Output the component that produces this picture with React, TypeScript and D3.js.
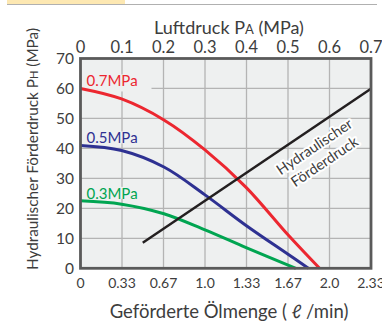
import React from "react";
import * as d3 from "d3";

const bottomTickLabels = ["0", "0.33", "0.67", "1.0", "1.33", "1.67", "2.0", "2.33"];
const topTickLabels = ["0", "0.1", "0.2", "0.3", "0.4", "0.5", "0.6", "0.7"];
const yTicks = [0, 10, 20, 30, 40, 50, 60, 70];

const seriesNames = ["0.7MPa", "0.5MPa", "0.3MPa"];
const seriesColors = ["#ec2730", "#2e3192", "#00a551"];
const flow07 = [0, 0.33, 0.67, 1.0, 1.33, 1.67, 1.92];
const head07 = [60, 56.5, 49.5, 39.5, 27, 11, 0];
const flow05 = [0, 0.33, 0.67, 1.0, 1.33, 1.67, 1.83];
const head05 = [41, 39.3, 33.8, 24.5, 14.3, 4.6, 0];
const flow03 = [0, 0.33, 0.67, 1.0, 1.33, 1.73];
const head03 = [22.5, 21.4, 18.2, 12.8, 6.9, 0];
const labelHeads = [60, 41, 22.5];

const pumpFlow = [0.5, 2.33];
const pumpHead = [8.5, 59.8];

const W = 382;
const H = 323;
const plotBg = "#eef0f0";
const textColor = "#3d3d3d";
const font = "Lato, 'Open Sans', sans-serif";

export default function App() {
  const x = d3.scaleLinear().domain([0, 7 / 3]).range([80.5, 371]);
  const xTop = d3.scaleLinear().domain([0, 0.7]).range([80.5, 371]);
  const y = d3.scaleLinear().domain([0, 70]).range([268.3, 58.5]);

  const line = d3
    .line<[number, number]>()
    .x((d) => x(d[0]))
    .y((d) => y(d[1]))
    .curve(d3.curveCatmullRom.alpha(0.5));

  const straight = d3
    .line<[number, number]>()
    .x((d) => x(d[0]))
    .y((d) => y(d[1]));

  const series = [
    { flow: flow07, head: head07 },
    { flow: flow05, head: head05 },
    { flow: flow03, head: head03 },
  ];

  const [x0, x1] = x.range();
  const [y0, y1] = y.range();

  const pumpPts: [number, number][] = pumpFlow.map((f, i) => [f, pumpHead[i]]);
  const annX = 320;
  const annY = 155;

  return (
    <svg
      width={W}
      height={H}
      style={{ position: "absolute", left: 0, top: 0, background: "#fff" }}
      fontFamily={font}
    >
      {/* cropped header fragment */}
      <rect x={7} y={0} width={118} height={4} fill="#fde8b2" />
      <line x1={7} x2={377} y1={4.5} y2={4.5} stroke="#b0b0b0" strokeWidth={1} />

      {/* plot background */}
      <rect x={x0} y={y1} width={x1 - x0} height={y0 - y1} fill={plotBg} />

      {/* grid */}
      {bottomTickLabels.map((_, i) =>
        i > 0 && i < bottomTickLabels.length - 1 ? (
          <line key={"gv" + i} x1={x(i / 3)} x2={x(i / 3)} y1={y1} y2={y0} stroke="#b4b4b4" strokeWidth={1.3} />
        ) : null
      )}
      {yTicks.map((t) =>
        t > 0 && t < 70 ? (
          <line key={"gh" + t} x1={x0} x2={x1} y1={y(t)} y2={y(t)} stroke="#b4b4b4" strokeWidth={1.3} />
        ) : null
      )}

      {/* series labels with knock-out background */}
      {seriesNames.map((name, i) => (
        <g key={name}>
          <rect x={x0 + 1} y={y(labelHeads[i]) - 14} width={i === 0 ? 70 : 58} height={i === 0 ? 17 : 12} fill={plotBg} />
          <text x={x0 + 6} y={y(labelHeads[i]) - 2} fontSize={15} fill={seriesColors[i]}>
            {name}
          </text>
        </g>
      ))}

      {/* curves */}
      {series.map((s, i) => (
        <path
          key={"s" + i}
          d={line(s.flow.map((f, j) => [f, s.head[j]] as [number, number])) || ""}
          fill="none"
          stroke={seriesColors[i]}
          strokeWidth={3}
        />
      ))}

      {/* pump delivery line */}
      <path d={straight(pumpPts) || ""} fill="none" stroke="#231f20" strokeWidth={2.5} />

      {/* annotation */}
      <g transform={`translate(${annX},${annY}) rotate(-34)`} fontSize={14.5} fill={textColor} textAnchor="middle">
        <text x={0} y={-5} stroke="#ffffff" strokeWidth={4} paintOrder="stroke" strokeLinejoin="round">
          Hydraulischer
        </text>
        <text x={0} y={13} stroke="#ffffff" strokeWidth={4} paintOrder="stroke" strokeLinejoin="round">
          Förderdruck
        </text>
      </g>

      {/* frame */}
      <rect x={x0} y={y1} width={x1 - x0} height={y0 - y1} fill="none" stroke="#5a5a5a" strokeWidth={2.8} />

      {/* y ticks */}
      {yTicks.map((t) => (
        <text key={"yt" + t} x={74} y={y(t) + 5.5} fontSize={15.5} fill={textColor} textAnchor="end">
          {t}
        </text>
      ))}

      {/* bottom ticks */}
      {bottomTickLabels.map((l, i) => (
        <text key={"bt" + i} x={x(i / 3)} y={288} fontSize={14} fill={textColor} textAnchor="middle">
          {l}
        </text>
      ))}

      {/* top ticks */}
      {topTickLabels.map((l, i) => (
        <text key={"tt" + i} x={xTop(i / 10)} y={52.5} fontSize={16.5} fill={textColor} textAnchor="middle">
          {l}
        </text>
      ))}

      {/* titles */}
      <text x={229} y={33.5} fontSize={18} fill={textColor} textAnchor="middle">
        Luftdruck P<tspan fontSize={13}>A</tspan> (MPa)
      </text>
      <text x={229} y={318} fontSize={18.5} fill={textColor} textAnchor="middle">
        Geförderte Ölmenge ( <tspan fontStyle="italic">ℓ</tspan> /min)
      </text>
      <text
        transform={`translate(38,149) rotate(-90)`}
        fontSize={15.3}
        fill={textColor}
        textAnchor="middle"
      >
        Hydraulischer Förderdruck P<tspan fontSize={11}>H</tspan> (MPa)
      </text>
    </svg>
  );
}
